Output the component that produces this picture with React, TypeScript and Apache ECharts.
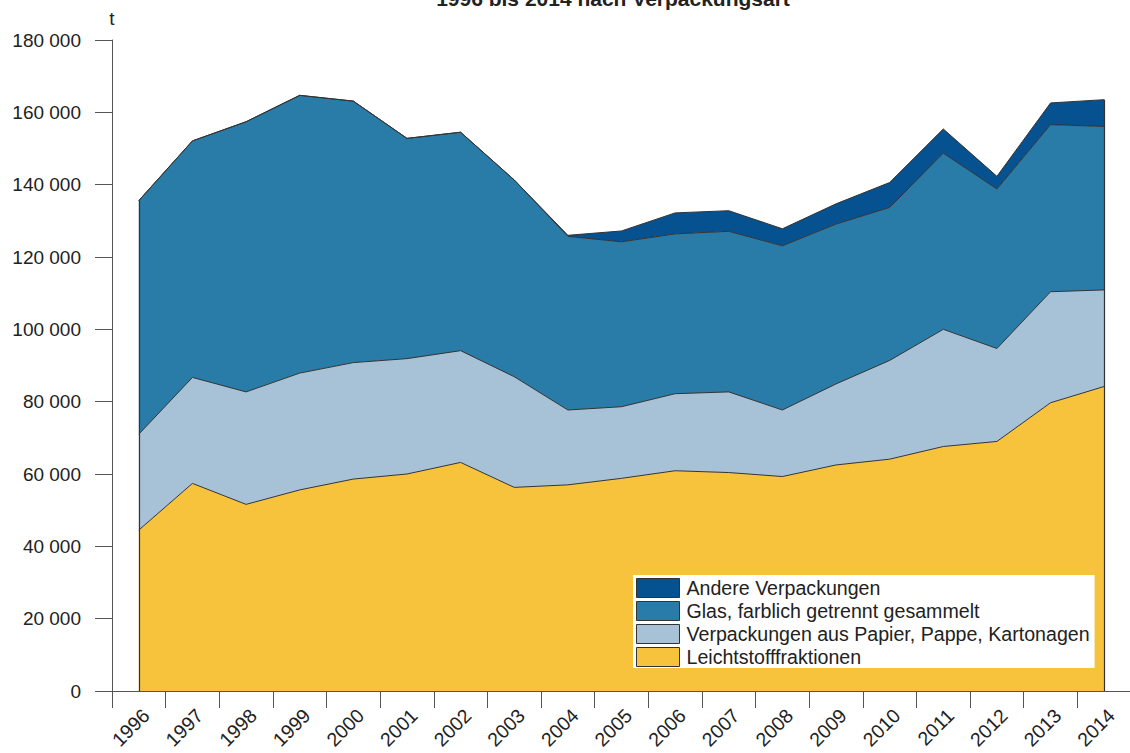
import React, { useEffect, useRef } from 'react';
import * as echarts from 'echarts';

const years = ['1996', '1997', '1998', '1999', '2000', '2001', '2002', '2003', '2004', '2005', '2006', '2007', '2008', '2009', '2010', '2011', '2012', '2013', '2014'];
const leicht = [44500, 57400, 51600, 55600, 58600, 60000, 63200, 56300, 57000, 58800, 60900, 60400, 59300, 62500, 64100, 67600, 69000, 79700, 84200];
const papier = [26500, 29300, 31100, 32300, 32200, 31900, 30900, 30600, 20700, 19800, 21300, 22300, 18400, 22400, 27300, 32400, 25700, 30700, 26700];
const glas = [64600, 65400, 74700, 76800, 72300, 60900, 60400, 54400, 48000, 45600, 44200, 44400, 45400, 44200, 42300, 48700, 44100, 46200, 45200];
const andere = [0, 0, 0, 0, 0, 0, 0, 0, 300, 3000, 5800, 5700, 4700, 5600, 6900, 6700, 3500, 6000, 7400];

const seriesNames = ['Leichtstofffraktionen', 'Verpackungen aus Papier, Pappe, Kartonagen', 'Glas, farblich getrennt gesammelt', 'Andere Verpackungen'];
const seriesColors = ['#F7C33D', '#A7C1D6', '#297CA8', '#06518F'];
const titleText = '1996 bis 2014 nach Verpackungsart';
const unitLabel = 't';

const fmt = (v: number) => String(v).replace(/\B(?=(\d{3})+(?!\d))/g, ' ');

export default function App() {
  const ref = useRef<HTMLDivElement>(null);
  useEffect(() => {
    if (!ref.current) return;
    const chart = echarts.init(ref.current, undefined, { renderer: 'svg' });
    const values = [leicht, papier, glas, andere];
    const totals = years.map((_, i) => values.reduce((s, arr) => s + arr[i], 0));
    const last = years.length - 1;
    const font = 'Liberation Sans, Arial, sans-serif';
    chart.setOption({
      animation: false,
      textStyle: { fontFamily: font },
      grid: { left: 112, top: 40, bottom: 62, right: -1, outerBoundsMode: 'none' },
      graphic: [
        {
          type: 'text',
          x: 613,
          y: -12,
          style: { text: titleText, font: 'bold 21px Liberation Sans, Arial, sans-serif', fill: '#222', textAlign: 'center', textVerticalAlign: 'top' },
        },
      ],
      legend: {
        orient: 'vertical',
        left: 633,
        top: 575,
        padding: [3, 5, 1, 3],
        itemWidth: 43,
        itemHeight: 19,
        itemGap: 3,
        icon: 'rect',
        backgroundColor: '#fff',
        data: [seriesNames[3], seriesNames[2], seriesNames[1], seriesNames[0]],
        itemStyle: { borderColor: '#333', borderWidth: 1 },
        textStyle: { fontSize: 19.6, color: '#222', fontFamily: font, padding: [0, 0, 0, 2] },
      },
      xAxis: {
        type: 'category',
        data: years,
        boundaryGap: true,
        axisLine: { lineStyle: { color: '#555', width: 1 } },
        axisTick: { show: true, length: 17, lineStyle: { color: '#555' } },
        axisLabel: { rotate: 45, fontSize: 19.5, color: '#222', margin: 14, verticalAlign: 'top', fontFamily: font },
        splitLine: { show: false },
      },
      yAxis: {
        type: 'value',
        min: 0,
        max: 180000,
        interval: 20000,
        name: unitLabel,
        nameLocation: 'end',
        nameGap: 12,
        nameTextStyle: { fontSize: 19, color: '#222', fontFamily: font },
        axisLine: { show: true, lineStyle: { color: '#555', width: 1 } },
        axisTick: { show: true, length: 17, lineStyle: { color: '#555' } },
        axisLabel: { fontSize: 19, color: '#222', margin: 31, formatter: (v: number) => fmt(v), fontFamily: font },
        splitLine: { show: false },
      },
      series: values.map((arr, k) => ({
        name: seriesNames[k],
        type: 'line',
        stack: 'total',
        data: arr,
        symbol: 'none',
        color: seriesColors[k],
        lineStyle: { color: '#333', width: 1 },
        areaStyle: { color: seriesColors[k], opacity: 1 },
        z: 2,
        ...(k === values.length - 1
          ? {
              markLine: {
                silent: true,
                symbol: 'none',
                label: { show: false },
                lineStyle: { color: '#333', width: 1.2, type: 'solid' },
                data: [
                  [{ coord: [years[0], 0] }, { coord: [years[0], totals[0]] }],
                  [{ coord: [years[last], 0] }, { coord: [years[last], totals[last]] }],
                ],
              },
            }
          : {}),
      })),
    });
    return () => chart.dispose();
  }, []);
  return <div ref={ref} style={{ position: 'absolute', left: 0, top: 0, width: 1130, height: 753 }} />;
}
